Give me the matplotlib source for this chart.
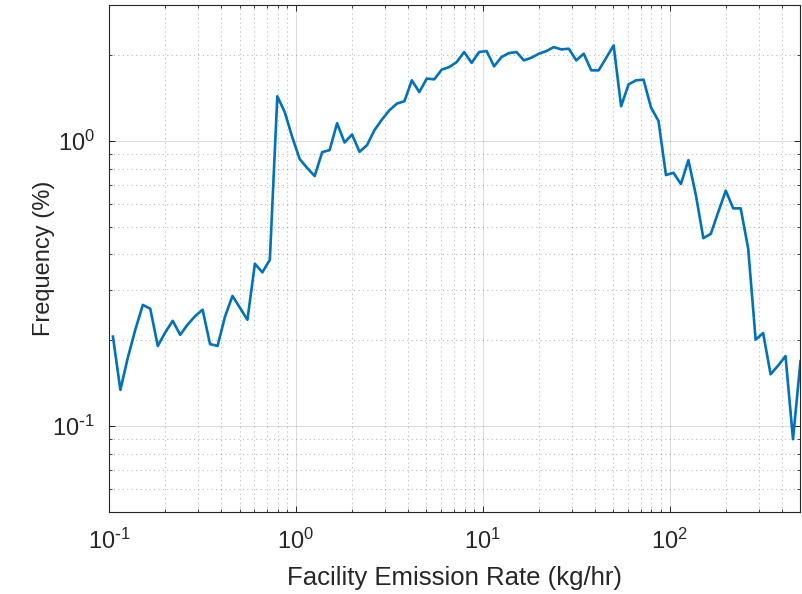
"""Log-log frequency distribution of facility emission rates."""

import math

import matplotlib

matplotlib.use("Agg")
import matplotlib.pyplot as plt
from matplotlib.ticker import FuncFormatter, LogLocator, NullFormatter

plt.rcParams["font.family"] = ["Liberation Sans", "DejaVu Sans"]
plt.rcParams["mathtext.default"] = "regular"
plt.rcParams["axes.unicode_minus"] = False

# bin centres (kg/hr), 25 bins per decade
emission_rate = [
    0.1050, 0.1151, 0.1262, 0.1384, 0.1518, 0.1664, 0.1825, 0.2001, 0.2194, 0.2405,
    0.2636, 0.2891, 0.3170, 0.3475, 0.3811, 0.4178, 0.4581, 0.5023, 0.5508, 0.6039,
    0.6622, 0.7261, 0.7962, 0.8730, 0.9572, 1.0495, 1.151, 1.262, 1.384, 1.517,
    1.663, 1.824, 2.000, 2.193, 2.404, 2.636, 2.891, 3.170, 3.475, 3.811,
    4.178, 4.581, 5.023, 5.508, 6.039, 6.622, 7.261, 7.962, 8.730, 9.572,
    10.50, 11.51, 12.62, 13.84, 15.17, 16.63, 18.24, 20.00, 21.93, 24.04,
    26.36, 28.91, 31.70, 34.75, 38.11, 41.78, 45.81, 50.23, 55.08, 60.39,
    66.22, 72.61, 79.62, 87.30, 95.72, 105.0, 115.1, 126.2, 138.4, 151.7,
    166.3, 182.4, 200.0, 219.3, 240.4, 263.6, 289.1, 317.0, 347.5, 381.1,
    417.8, 458.1, 502.3,
]

# share of facilities in each bin (%)
frequency_pct = [
    0.206, 0.134, 0.174, 0.218, 0.266, 0.258, 0.191, 0.213, 0.234, 0.209,
    0.227, 0.243, 0.256, 0.194, 0.191, 0.242, 0.286, 0.260, 0.236, 0.371,
    0.346, 0.383, 1.433, 1.260, 1.030, 0.863, 0.803, 0.753, 0.913, 0.928,
    1.153, 0.987, 1.053, 0.915, 0.966, 1.090, 1.188, 1.280, 1.351, 1.377,
    1.630, 1.483, 1.653, 1.643, 1.777, 1.814, 1.889, 2.048, 1.877, 2.048,
    2.064, 1.825, 1.967, 2.031, 2.048, 1.915, 1.957, 2.021, 2.064, 2.132,
    2.092, 2.104, 1.915, 2.021, 1.767, 1.767, 1.954, 2.161, 1.322, 1.578,
    1.630, 1.639, 1.309, 1.175, 0.759, 0.773, 0.706, 0.856, 0.646, 0.456,
    0.472, 0.563, 0.669, 0.580, 0.580, 0.420, 0.201, 0.212, 0.152, 0.163,
    0.176, 0.090, 0.169,
]

x_limits = (0.1, 500)
y_limits = (0.05, 3)

ink = "#262626"


def _decade_label(value, _pos):
    exp = int(round(math.log10(value)))
    if exp < 0:
        return rf"$10^{{\text{{-}}{-exp}}}$"
    return rf"$10^{{{exp}}}$"


fig = plt.figure(figsize=(8.03, 5.94), dpi=100)
ax = fig.add_axes([0.1357, 0.1380, 0.8607, 0.8540])

ax.plot(emission_rate, frequency_pct, color="#0072BD", linewidth=1.9)

ax.set_xscale("log")
ax.set_yscale("log")
ax.set_xlim(*x_limits)
ax.set_ylim(*y_limits)

for axis in (ax.xaxis, ax.yaxis):
    axis.set_major_locator(LogLocator(base=10, numticks=10))
    axis.set_minor_locator(LogLocator(base=10, subs=range(2, 10), numticks=20))
    axis.set_major_formatter(FuncFormatter(_decade_label))
    axis.set_minor_formatter(NullFormatter())

ax.grid(True, which="major", color=ink, alpha=0.15, linewidth=0.8, linestyle="-")
ax.grid(True, which="minor", color="#1a1a1a", alpha=0.3, linewidth=0.8,
        linestyle=(0, (1.0, 3.0)))
ax.set_axisbelow(True)

for side in ax.spines.values():
    side.set_color(ink)
    side.set_linewidth(0.8)

ax.tick_params(which="both", direction="in", top=True, right=True,
               colors=ink, labelcolor=ink)
ax.tick_params(which="major", length=4.5, width=0.7, labelsize=17)
ax.tick_params(axis="x", which="major", pad=12)
ax.tick_params(axis="y", which="major", pad=10)
ax.tick_params(which="minor", length=2.5, width=0.6)

ax.set_xlabel("Facility Emission Rate (kg/hr)", fontsize=18.5, color=ink, labelpad=9)
ax.set_ylabel("Frequency (%)", fontsize=17, color=ink, labelpad=-2)

fig.savefig("out.png", dpi=100)
